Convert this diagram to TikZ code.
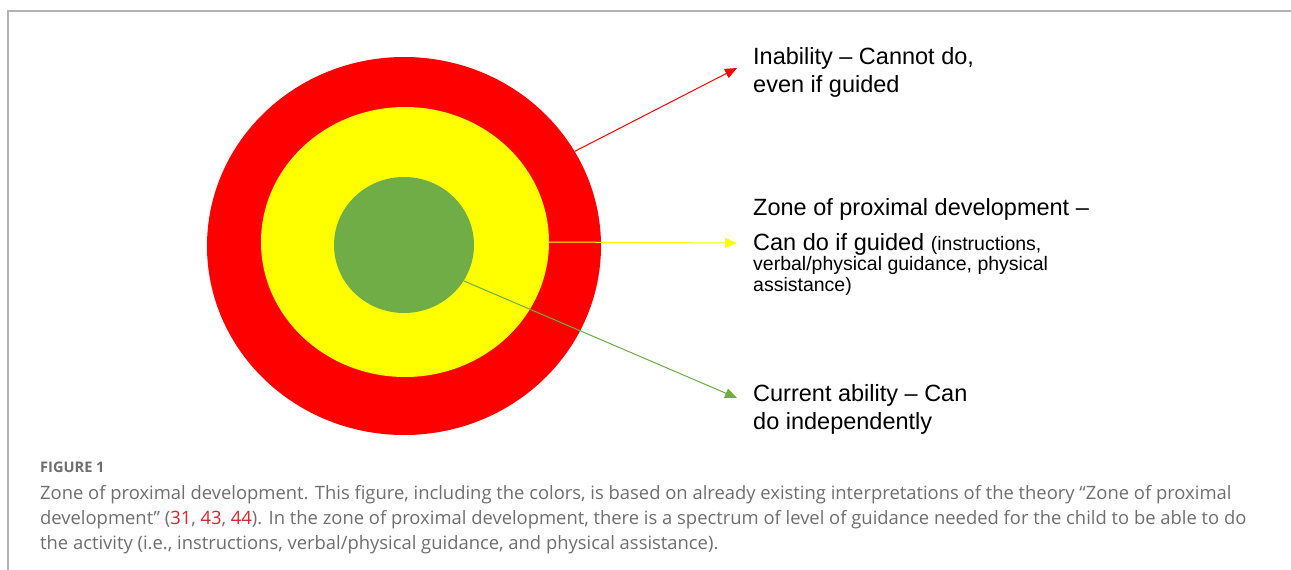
\documentclass[tikz,border=0pt]{standalone}
\usepackage{fontspec}
\setmainfont{Liberation Sans}
\newfontfamily\capfont{Open Sans}
\usetikzlibrary{arrows.meta,shapes.geometric}
\definecolor{zred}{HTML}{FF0000}
\definecolor{zyellow}{HTML}{FFFF00}
\definecolor{zgreen}{HTML}{70AD47}
\definecolor{framegray}{HTML}{B3B3B3}
\definecolor{capgray}{HTML}{6E6E6E}
\definecolor{refred}{HTML}{D7262E}
\tikzset{
  ring/.style={ellipse, draw=none, inner sep=0pt},
  lab/.style={anchor=north west, align=left, inner sep=0pt, font=\fontsize{23.5}{28}\selectfont},
  arr/.style={-{Triangle[length=12pt,width=10pt]}, line width=1pt},
  capline/.style={anchor=base west, inner sep=0pt, text=capgray, font=\capfont\fontsize{18.4}{25}\selectfont}
}
\begin{document}
\begin{tikzpicture}[x=1pt,y=-1pt]
\useasboundingbox (0,0) rectangle (1291,570);
% frame
\draw[framegray, line width=1.5pt] (8,570) -- (8,11) -- (1291,11);
% circles
\node[ring, fill=zred, minimum width=394pt, minimum height=378pt] (red) at (404,246) {};
\node[ring, fill=zyellow, minimum width=288pt, minimum height=270pt] (yellow) at (405,242) {};
\node[ring, fill=zgreen, minimum width=140pt, minimum height=136pt] (green) at (404,245) {};
% labels
\node[lab] (inab) at (753,47) {Inability -- Cannot do,\\even if guided};
\node[lab] (zpd) at (753,198) {Zone of proximal development --\\[7pt]Can do if guided {\fontsize{19.5}{20}\selectfont (instructions,}\\[-8pt]{\fontsize{19.5}{20}\selectfont verbal/physical guidance, physical}\\[-7pt]{\fontsize{19.5}{20}\selectfont assistance)}};
\node[lab] (cur) at (753,384) {Current ability -- Can\\do independently};
% arrow end points
\coordinate (e1) at (737,68);
\coordinate (e2) at (737,243);
\coordinate (e3) at (737,398);
\draw[arr, zred] (red.29) -- (e1);
\draw[arr, zyellow] (yellow.east) -- (e2);
\draw[arr, zgreen] (green.-31) -- (e3);
% caption
\node[capline, font=\capfont\bfseries\fontsize{14.6}{16}\selectfont] (fig) at (40,472) {FIGURE 1};
\node[capline] (c1) at (40,499) {Zone of proximal development. This figure, including the colors, is based on already existing interpretations of the theory “Zone of proximal};
\node[capline] (c2) at (40,524) {development” (\textcolor{refred}{31}, \textcolor{refred}{43}, \textcolor{refred}{44}). In the zone of proximal development, there is a spectrum of level of guidance needed for the child to be able to do};
\node[capline] (c3) at (40,549) {the activity (i.e., instructions, verbal/physical guidance, and physical assistance).};
\end{tikzpicture}
\end{document}
